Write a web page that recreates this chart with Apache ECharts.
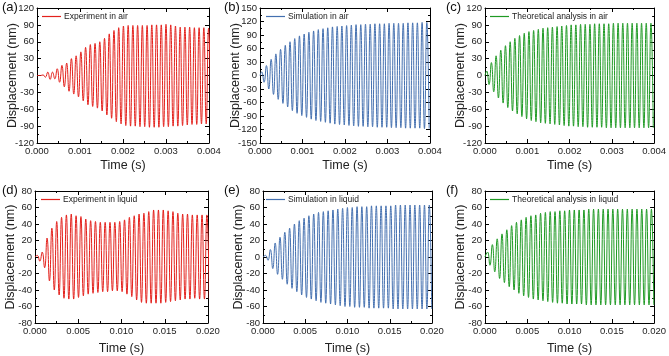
<!DOCTYPE html>
<html>
<head>
<meta charset="utf-8">
<script src="https://cdn.jsdelivr.net/npm/echarts@6/dist/echarts.min.js"></script>
<style>
  html, body { margin: 0; padding: 0; background: #fff; }
  #chart { width: 669px; height: 356px; }
</style>
</head>
<body>
<div id="chart"></div>
<script>
// panel tags and series names
var panelTags = ['(a)', '(b)', '(c)', '(d)', '(e)', '(f)'];
var seriesNames = [
  'Experiment in air', 'Simulation in air', 'Theoretical analysis in air',
  'Experiment in liquid', 'Simulation in liquid', 'Theoretical analysis in liquid'
];

// axis ranges [min, max, step]
var timeAir = [0, 0.004, 0.001];
var timeLiquid = [0, 0.02, 0.005];
var dispA = [-120, 120, 30];
var dispB = [-150, 150, 30];
var dispC = [-120, 120, 30];
var dispLiquid = [-80, 80, 20];

// first upper peak time and oscillation period (s)
var timingA = [0.00003, 0.00011];
var timingB = [0.00004, 0.000111];
var timingC = [0.00004, 0.000111];
var timingD = [0.00027, 0.00056];
var timingE = [0.0003, 0.00057];
var timingF = [0.0003, 0.00057];

// peak displacements (nm), one per cycle: maxima then the following minima
var upperA = [0, 1, 6, 6, 12, 18, 22, 30, 35, 42, 50, 55, 57, 60, 66, 74, 80, 85, 88, 89, 89, 89, 89, 89, 90, 90, 90, 91, 90, 88, 86, 86, 86, 85, 85, 85, 84];
var lowerA = [0, -3, -7, -6, -12, -20, -28, -33, -38, -45, -52, -55, -58, -63, -70, -76, -82, -86, -89, -90, -90, -91, -91, -92, -92, -92, -91, -91, -90, -90, -89, -88, -87, -87, -86, -86, -85];

var upperB = [8, 22, 36, 48, 58, 67, 75, 82, 88, 92, 96, 99, 102, 104, 106, 108, 109, 110, 111, 112, 113, 113, 114, 114, 115, 115, 115, 116, 116, 116, 116, 117, 117, 117, 118, 118];
var lowerB = [-15, -30, -42, -53, -62, -70, -78, -84, -89, -93, -97, -100, -102, -104, -106, -108, -109, -110, -111, -112, -113, -113, -114, -114, -115, -115, -115, -116, -116, -116, -117, -117, -117, -117, -118, -118];

var upperC = [8, 23, 35, 45, 53, 60, 66, 71, 75, 78, 80, 82, 84, 85, 86, 87, 88, 89, 90, 90, 91, 91, 91, 92, 92, 92, 92, 93, 93, 93, 93, 93, 93, 93, 93, 93];
var lowerC = [-16, -29, -40, -49, -57, -63, -68, -73, -77, -80, -82, -84, -85, -86, -87, -88, -89, -90, -90, -91, -91, -92, -92, -92, -92, -93, -93, -93, -93, -93, -93, -93, -93, -93, -93, -93];

var upperD = [2, 6, 23, 35, 43, 48, 51, 52, 50, 49, 46, 44, 43, 42, 42, 42, 42, 43, 45, 48, 50, 52, 53, 55, 57, 57, 57, 56, 55, 53, 52, 52, 51, 51, 51, 51];
var lowerD = [-5, -13, -29, -40, -46, -50, -51, -51, -49, -47, -45, -44, -43, -42, -42, -41, -41, -42, -45, -48, -52, -55, -56, -56, -56, -56, -55, -54, -53, -52, -51, -51, -50, -51, -51, -51];

var upperE = [2, 9, 17, 24, 30, 35, 40, 44, 47, 50, 52, 54, 55, 56, 57, 58, 59, 60, 60, 61, 61, 61, 62, 62, 62, 62, 62, 63, 63, 63, 63, 63, 63, 63, 63];
var lowerE = [-4, -14, -21, -27, -33, -38, -42, -46, -49, -51, -53, -55, -56, -57, -58, -59, -60, -60, -61, -61, -61, -62, -62, -62, -62, -62, -63, -63, -63, -63, -63, -63, -63, -63, -63];

var upperF = [6, 15, 22, 28, 33, 38, 42, 45, 48, 50, 51, 53, 54, 55, 55, 56, 56, 57, 57, 57, 57, 58, 58, 58, 58, 58, 58, 58, 58, 58, 58, 58, 58, 58, 58];
var lowerF = [-10, -18, -26, -31, -36, -40, -44, -47, -49, -51, -52, -53, -54, -55, -56, -56, -57, -57, -57, -57, -58, -58, -58, -58, -58, -58, -58, -58, -58, -58, -58, -58, -58, -58, -58];

var RED = '#e3211c', BLUE = '#4470b0', GREEN = '#1f9a24';
var FONT = 'Liberation Sans, Arial, sans-serif';

// puts the read peaks in time order, starting from rest
function peaksToLine(timing, upper, lower) {
  var t0 = timing[0], p = timing[1];
  var pts = [[0, 0]];
  for (var i = 0; i < upper.length; i++) {
    pts.push([t0 + i * p, upper[i]]);
    if (i < lower.length) pts.push([t0 + i * p + p / 2, lower[i]]);
  }
  return pts;
}

var panels = [
  { grid: { left: 37, top: 8, width: 172, height: 135 }, x: timeAir, y: dispA, data: peaksToLine(timingA, upperA, lowerA), color: RED, tag: [2, 1], leg: [42, 12], nameGapX: 16 },
  { grid: { left: 260, top: 8, width: 170, height: 135 }, x: timeAir, y: dispB, data: peaksToLine(timingB, upperB, lowerB), color: BLUE, tag: [224, 1], leg: [266, 12], nameGapX: 16 },
  { grid: { left: 485, top: 8, width: 171, height: 135 }, x: timeAir, y: dispC, data: peaksToLine(timingC, upperC, lowerC), color: GREEN, tag: [446, 1], leg: [490, 12], nameGapX: 16 },
  { grid: { left: 35, top: 191, width: 173, height: 133 }, x: timeLiquid, y: dispLiquid, data: peaksToLine(timingD, upperD, lowerD), color: RED, tag: [2, 184], leg: [41, 195], nameGapX: 19 },
  { grid: { left: 263, top: 191, width: 169, height: 133 }, x: timeLiquid, y: dispLiquid, data: peaksToLine(timingE, upperE, lowerE), color: BLUE, tag: [224, 184], leg: [266, 195], nameGapX: 19 },
  { grid: { left: 485, top: 191, width: 170, height: 133 }, x: timeLiquid, y: dispLiquid, data: peaksToLine(timingF, upperF, lowerF), color: GREEN, tag: [446, 184], leg: [490, 195], nameGapX: 19 }
];

var axisLine = { show: true, onZero: false, lineStyle: { color: '#000', width: 1 } };
var tick = { show: true, inside: true, length: 4, lineStyle: { color: '#000' } };
var minor = { show: true, splitNumber: 2, length: 2, lineStyle: { color: '#000' } };

var option = {
  animation: false,
  backgroundColor: '#fff',
  textStyle: { fontFamily: FONT },
  grid: [], xAxis: [], yAxis: [], series: [], legend: [], title: []
};

panels.forEach(function (p, i) {
  option.grid.push(Object.assign({ show: false }, p.grid));
  option.xAxis.push({
    type: 'value', gridIndex: i, position: 'bottom',
    min: p.x[0], max: p.x[1], interval: p.x[2],
    axisLine: axisLine, axisTick: tick, minorTick: minor, splitLine: { show: false },
    axisLabel: { fontSize: 9.5, margin: 3, color: '#222', fontFamily: FONT,
      formatter: function (v) { return v.toFixed(3); } },
    name: 'Time (s)', nameLocation: 'middle', nameGap: p.nameGapX, nameMoveOverlap: false,
    nameTextStyle: { fontSize: 12.5, color: '#222', fontFamily: FONT }
  });
  option.xAxis.push({
    type: 'value', gridIndex: i, position: 'top',
    min: p.x[0], max: p.x[1], interval: p.x[2],
    axisLine: axisLine, axisTick: tick, minorTick: minor, splitLine: { show: false },
    axisLabel: { show: false }
  });
  option.yAxis.push({
    type: 'value', gridIndex: i, position: 'left',
    min: p.y[0], max: p.y[1], interval: p.y[2],
    axisLine: axisLine, axisTick: tick, minorTick: minor, splitLine: { show: false },
    axisLabel: { fontSize: 9.5, margin: 3, color: '#222', fontFamily: FONT },
    name: 'Displacement (nm)', nameLocation: 'middle', nameGap: 18, nameMoveOverlap: false,
    nameTextStyle: { fontSize: 12.5, color: '#222', fontFamily: FONT }
  });
  option.yAxis.push({
    type: 'value', gridIndex: i, position: 'right',
    min: p.y[0], max: p.y[1], interval: p.y[2],
    axisLine: axisLine, axisTick: tick, minorTick: minor, splitLine: { show: false },
    axisLabel: { show: false }
  });
  option.series.push({
    name: seriesNames[i], type: 'line',
    xAxisIndex: 2 * i, yAxisIndex: 2 * i,
    data: p.data, showSymbol: false, symbol: 'none', smooth: 0.5,
    lineStyle: { color: p.color, width: 1 }, itemStyle: { color: p.color }
  });
  option.legend.push({
    data: [seriesNames[i]], left: p.leg[0], top: p.leg[1], padding: 0,
    icon: 'rect', itemWidth: 19, itemHeight: 1.2, itemGap: 0,
    textStyle: { fontSize: 8.5, color: '#222', fontFamily: FONT, padding: [0, 0, 0, -2] },
    selectedMode: false
  });
  option.title.push({
    text: panelTags[i], left: p.tag[0], top: p.tag[1], padding: 0,
    textStyle: { fontSize: 13, fontWeight: 'normal', color: '#111', fontFamily: FONT }
  });
});

var chart = echarts.init(document.getElementById('chart'), null, { renderer: 'canvas' });
chart.setOption(option);
</script>
</body>
</html>
